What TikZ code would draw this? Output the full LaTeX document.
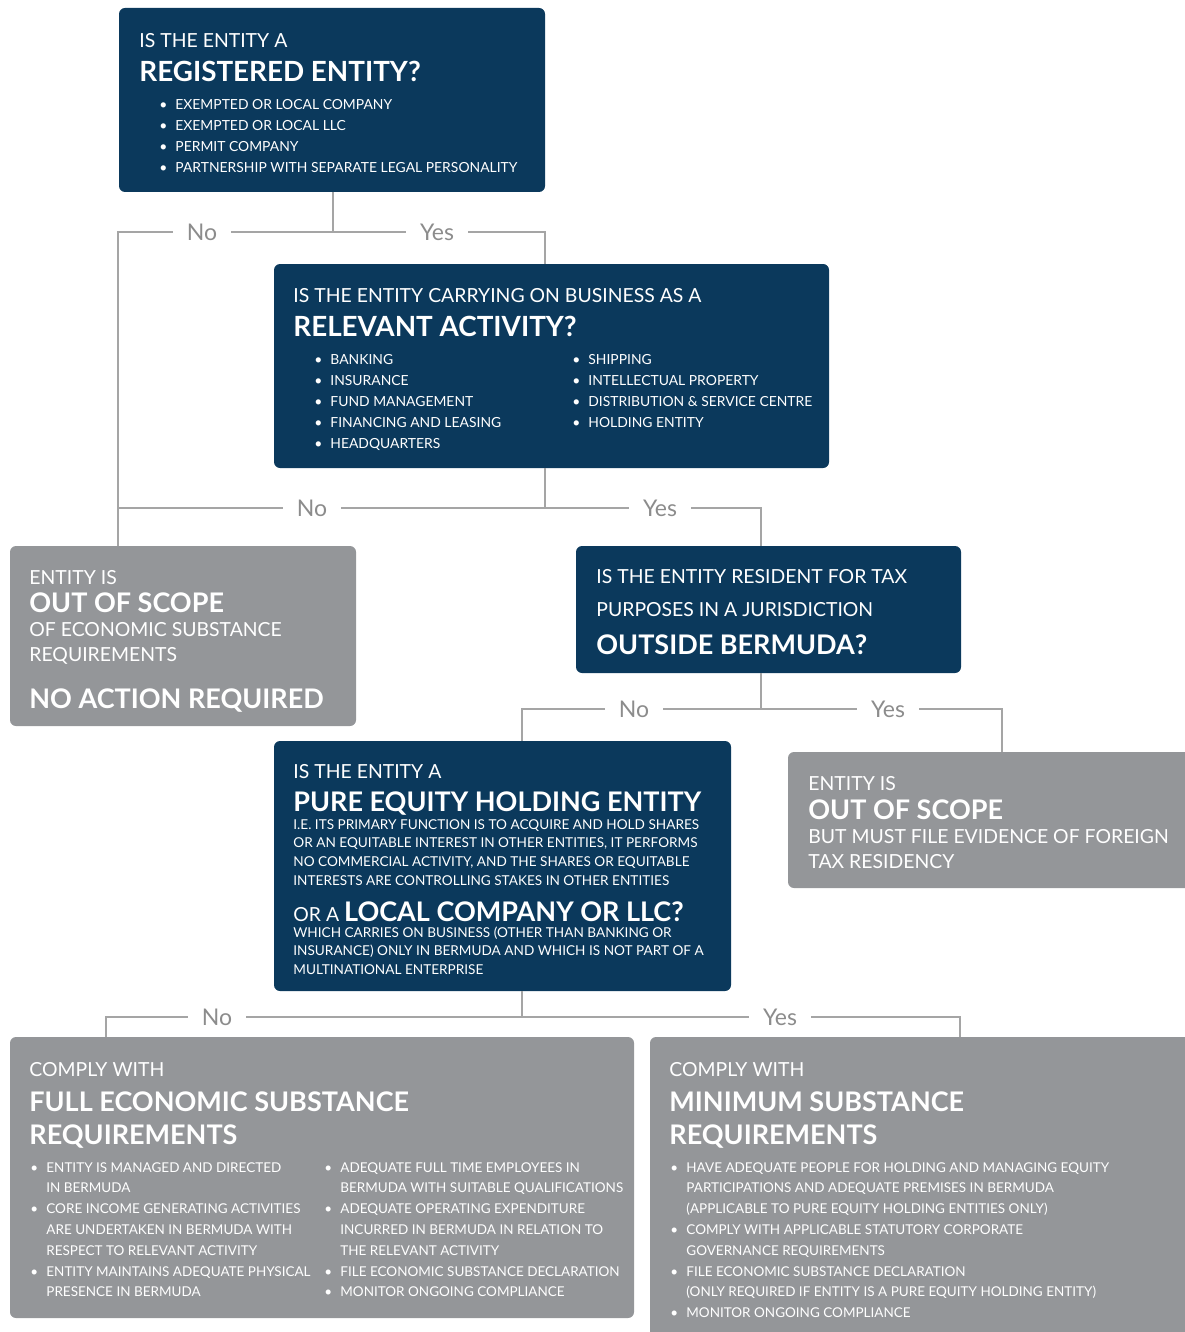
\documentclass[tikz,border=0pt]{standalone}
\usepackage{fontspec}
\setmainfont{Lato}
\newcommand{\bl}{\makebox[8pt][l]{\textbullet}}
\begin{document}
\begin{tikzpicture}[x=0.5pt,y=-0.5pt,
  navybox/.style={fill=navy, rounded corners=3pt, anchor=north west, inner sep=0pt, outer sep=0pt},
  greybox/.style={fill=boxgrey, rounded corners=3pt, anchor=north west, inner sep=0pt, outer sep=0pt},
  conn/.style={draw=linegrey, line width=0.8pt},
  answer/.style={fill=white, text=labelgrey, inner xsep=7pt, inner ysep=2pt, font=\fontsize{11.5}{13}\selectfont},
  qtext/.style={anchor=base west, inner sep=0pt, text=white, font=\fontsize{9.7}{12}\selectfont},
  qbold/.style={anchor=base west, inner sep=0pt, text=white, font=\bfseries\fontsize{13.5}{15}\selectfont},
  qbig/.style={qbold, font=\bfseries\fontsize{13.9}{15}\selectfont},
  blist/.style={anchor=base west, inner sep=0pt, text=white, font=\fontsize{6.95}{10.5}\selectfont},
  glist/.style={blist, font=\fontsize{6.75}{10.4}\selectfont},
  fine/.style={anchor=base west, inner sep=0pt, text=white, font=\fontsize{6.8}{9.35}\selectfont},
]
  \definecolor{navy}{RGB}{11,57,92}
  \definecolor{boxgrey}{RGB}{148,150,153}
  \definecolor{linegrey}{RGB}{165,165,165}
  \definecolor{labelgrey}{RGB}{140,140,140}

  \useasboundingbox (0,0) rectangle (1184,1332);

  % Boxes
  \node[navybox, minimum width=213pt, minimum height=92pt] (reg) at (119,8) {};
  \node[navybox, minimum width=277.5pt, minimum height=102pt] (rel) at (274,264) {};
  \node[greybox, minimum width=173pt, minimum height=90pt] (oos1) at (10,546) {};
  \node[navybox, minimum width=192.5pt, minimum height=63.5pt] (tax) at (576,546) {};
  \node[navybox, minimum width=228.5pt, minimum height=125pt] (pure) at (274,741) {};
  \node[greybox, minimum width=210pt, minimum height=68pt] (oos2) at (788,752) {};
  \node[greybox, minimum width=312pt, minimum height=140.5pt] (full) at (10,1037) {};
  \node[greybox, minimum width=280pt, minimum height=160pt] (minreq) at (650,1037) {};

  % Branch points
  \coordinate (noA) at (118,232);  \coordinate (yesA) at (545,232);
  \coordinate (noB) at (118,508);  \coordinate (yesB) at (761,508);
  \coordinate (noC) at (522,709);  \coordinate (yesC) at (1002,709);
  \coordinate (noD) at (106,1017); \coordinate (yesD) at (960,1017);

  % Connectors
  \draw[conn] (reg.south -| 333,0) -- (noA -| 333,0);
  \draw[conn] (oos1.north -| noA) -- (noA) -- (yesA) -- (rel.north -| yesA);
  \draw[conn] (rel.south -| yesA) -- (yesA |- noB);
  \draw[conn] (noB) -- (yesB) -- (tax.north -| yesB);
  \draw[conn] (tax.south -| yesB) -- (yesB |- noC);
  \draw[conn] (pure.north -| noC) -- (noC) -- (yesC) -- (oos2.north -| yesC);
  \draw[conn] (pure.south -| noC) -- (noC |- noD);
  \draw[conn] (full.north -| noD) -- (noD) -- (yesD) -- (minreq.north -| yesD);

  % Answers
  \node[answer] (noa) at (202,232) {No};
  \node[answer] (yesa) at (437,232) {Yes};
  \node[answer] (nob) at (312,508) {No};
  \node[answer] (yesb) at (660,508) {Yes};
  \node[answer] (noc) at (634,709) {No};
  \node[answer] (yesc) at (888,709) {Yes};
  \node[answer] (nod) at (217,1017) {No};
  \node[answer] (yesd) at (780,1017) {Yes};

  % Registered entity
  \node[qtext] (regq) at (139,48) {IS THE ENTITY A};
  \node[qbig] (regb) at (139,82) {REGISTERED ENTITY?};
  \node[blist] (regl) at (159,110) {\begin{tabular}[t]{@{}l@{}l@{}}
    \bl & EXEMPTED OR LOCAL COMPANY\\
    \bl & EXEMPTED OR LOCAL LLC\\
    \bl & PERMIT COMPANY\\
    \bl & PARTNERSHIP WITH SEPARATE LEGAL PERSONALITY
  \end{tabular}};

  % Relevant activity
  \node[qtext] (relq) at (293,302) {IS THE ENTITY CARRYING ON BUSINESS AS A};
  \node[qbig] (relb) at (293,336) {RELEVANT ACTIVITY?};
  \node[blist] (rell) at (314,364) {\begin{tabular}[t]{@{}l@{}l@{}}
    \bl & BANKING\\
    \bl & INSURANCE\\
    \bl & FUND MANAGEMENT\\
    \bl & FINANCING AND LEASING\\
    \bl & HEADQUARTERS
  \end{tabular}};
  \node[blist] (relr) at (572,364) {\begin{tabular}[t]{@{}l@{}l@{}}
    \bl & SHIPPING\\
    \bl & INTELLECTUAL PROPERTY\\
    \bl & DISTRIBUTION \& SERVICE CENTRE\\
    \bl & HOLDING ENTITY
  \end{tabular}};

  % Out of scope, no action
  \node[qtext] (oos1a) at (29,584) {ENTITY IS};
  \node[qbold] (oos1b) at (29,612) {OUT OF SCOPE};
  \node[qtext] (oos1c) at (29,636) {OF ECONOMIC SUBSTANCE};
  \node[qtext] (oos1d) at (29,661) {REQUIREMENTS};
  \node[qbold] (oos1e) at (29,708) {NO ACTION REQUIRED};

  % Tax residence
  \node[qtext] (taxa) at (596,583) {IS THE ENTITY RESIDENT FOR TAX};
  \node[qtext] (taxb) at (596,616) {PURPOSES IN A JURISDICTION};
  \node[qbold] (taxc) at (596,654) {OUTSIDE BERMUDA?};

  % Pure equity holding entity
  \node[qtext] (purea) at (293,778) {IS THE ENTITY A};
  \node[qbold] (pureb) at (293,811) {PURE EQUITY HOLDING ENTITY};
  \node[fine] (purec) at (293,829) {\begin{tabular}[t]{@{}l@{}}
    I.E. ITS PRIMARY FUNCTION IS TO ACQUIRE AND HOLD SHARES\\
    OR AN EQUITABLE INTEREST IN OTHER ENTITIES, IT PERFORMS\\
    NO COMMERCIAL ACTIVITY, AND THE SHARES OR EQUITABLE\\
    INTERESTS ARE CONTROLLING STAKES IN OTHER ENTITIES
  \end{tabular}};
  \node[qtext] (pured) at (293,921) {OR A {\bfseries\fontsize{13.5}{15}\selectfont LOCAL COMPANY OR LLC?}};
  \node[fine] (puree) at (293,937) {\begin{tabular}[t]{@{}l@{}}
    WHICH CARRIES ON BUSINESS (OTHER THAN BANKING OR\\
    INSURANCE) ONLY IN BERMUDA AND WHICH IS NOT PART OF A\\
    MULTINATIONAL ENTERPRISE
  \end{tabular}};

  % Out of scope, foreign residency
  \node[qtext] (oos2a) at (808,790) {ENTITY IS};
  \node[qbold] (oos2b) at (808,819) {OUT OF SCOPE};
  \node[qtext] (oos2c) at (808,843) {BUT MUST FILE EVIDENCE OF FOREIGN};
  \node[qtext] (oos2d) at (808,868) {TAX RESIDENCY};

  % Full substance
  \node[qtext] (fulla) at (29,1076) {COMPLY WITH};
  \node[qbold] (fullb) at (29,1111) {FULL ECONOMIC SUBSTANCE};
  \node[qbold] (fullc) at (29,1144) {REQUIREMENTS};
  \node[glist] (fulll) at (30,1172) {\begin{tabular}[t]{@{}l@{}l@{}}
    \bl & ENTITY IS MANAGED AND DIRECTED\\
        & IN BERMUDA\\
    \bl & CORE INCOME GENERATING ACTIVITIES\\
        & ARE UNDERTAKEN IN BERMUDA WITH\\
        & RESPECT TO RELEVANT ACTIVITY\\
    \bl & ENTITY MAINTAINS ADEQUATE PHYSICAL\\
        & PRESENCE IN BERMUDA
  \end{tabular}};
  \node[glist] (fullr) at (324,1172) {\begin{tabular}[t]{@{}l@{}l@{}}
    \bl & ADEQUATE FULL TIME EMPLOYEES IN\\
        & BERMUDA WITH SUITABLE QUALIFICATIONS\\
    \bl & ADEQUATE OPERATING EXPENDITURE\\
        & INCURRED IN BERMUDA IN RELATION TO\\
        & THE RELEVANT ACTIVITY\\
    \bl & FILE ECONOMIC SUBSTANCE DECLARATION\\
    \bl & MONITOR ONGOING COMPLIANCE
  \end{tabular}};

  % Minimum substance
  \node[qtext] (mina) at (669,1076) {COMPLY WITH};
  \node[qbold] (minb) at (669,1111) {MINIMUM SUBSTANCE};
  \node[qbold] (minc) at (669,1144) {REQUIREMENTS};
  \node[glist] (minl) at (670,1172) {\begin{tabular}[t]{@{}l@{}l@{}}
    \bl & HAVE ADEQUATE PEOPLE FOR HOLDING AND MANAGING EQUITY\\
        & PARTICIPATIONS AND ADEQUATE PREMISES IN BERMUDA\\
        & (APPLICABLE TO PURE EQUITY HOLDING ENTITIES ONLY)\\
    \bl & COMPLY WITH APPLICABLE STATUTORY CORPORATE\\
        & GOVERNANCE REQUIREMENTS\\
    \bl & FILE ECONOMIC SUBSTANCE DECLARATION\\
        & (ONLY REQUIRED IF ENTITY IS A PURE EQUITY HOLDING ENTITY)\\
    \bl & MONITOR ONGOING COMPLIANCE
  \end{tabular}};
\end{tikzpicture}
\end{document}
